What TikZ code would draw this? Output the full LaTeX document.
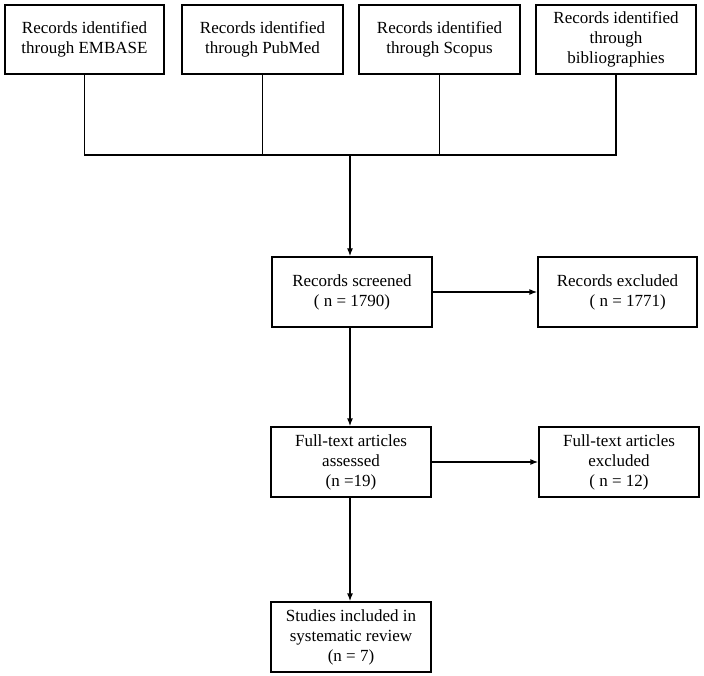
\documentclass[tikz,border=0pt]{standalone}
\usepackage{fontspec}
\setmainfont{Liberation Serif}
\usetikzlibrary{arrows.meta}
\begin{document}
\begin{tikzpicture}[x=1pt,y=-1pt,
  box/.style={draw, line width=1.3pt, rectangle, align=center, inner sep=0pt,
    minimum width=160pt, minimum height=70pt,
    font=\fontsize{17}{20}\selectfont},
  conn/.style={line width=1.3pt},
  arr/.style={line width=1.3pt, -{Latex[length=8pt,width=6pt]}}]
\useasboundingbox (0,0) rectangle (704,676);
\node[box, minimum width=159pt, minimum height=69pt] (b1) at (84.5,39.5) {Records identified\\through EMBASE};
\node[box, minimum width=161pt, minimum height=69pt] (b2) at (262.5,39.5) {Records identified\\through PubMed};
\node[box, minimum width=161pt, minimum height=69pt] (b3) at (439.5,39.5) {Records identified\\through Scopus};
\node[box, minimum width=160pt, minimum height=69pt] (b4) at (616,39.5) {Records identified\\through\\bibliographies};
\node[box] (scr) at (352,292) {Records screened\\( n = 1790)};
\node[box, minimum width=159pt] (exc) at (617.5,292) {Records excluded\\\hspace*{1.2em}( n = 1771)};
\node[box] (ft) at (351,462) {Full-text articles\\assessed\\(n =19)};
\node[box] (ftx) at (619,462) {Full-text articles\\excluded\\( n = 12)};
\node[box] (inc) at (351,637) {Studies included in\\systematic review\\(n = 7)};
\coordinate (j1) at (b1.south |- 0,155);
\coordinate (j2) at (b2.south |- 0,155);
\coordinate (j3) at (b3.south |- 0,155);
\coordinate (j4) at (b4.south |- 0,155);
\coordinate (jm) at (350,155);
\draw[conn] (b1.south) -- (j1) -- (j4) -- (b4.south);
\draw[conn] (b2.south) -- (j2);
\draw[conn] (b3.south) -- (j3);
\draw[arr] (jm) -- (jm |- scr.north);
\draw[arr] (scr.east) -- (exc.west);
\draw[arr] (scr.south -| jm) -- (ft.north -| jm);
\draw[arr] (ft.east) -- (ftx.west);
\draw[arr] (ft.south -| jm) -- (inc.north -| jm);
\end{tikzpicture}
\end{document}
